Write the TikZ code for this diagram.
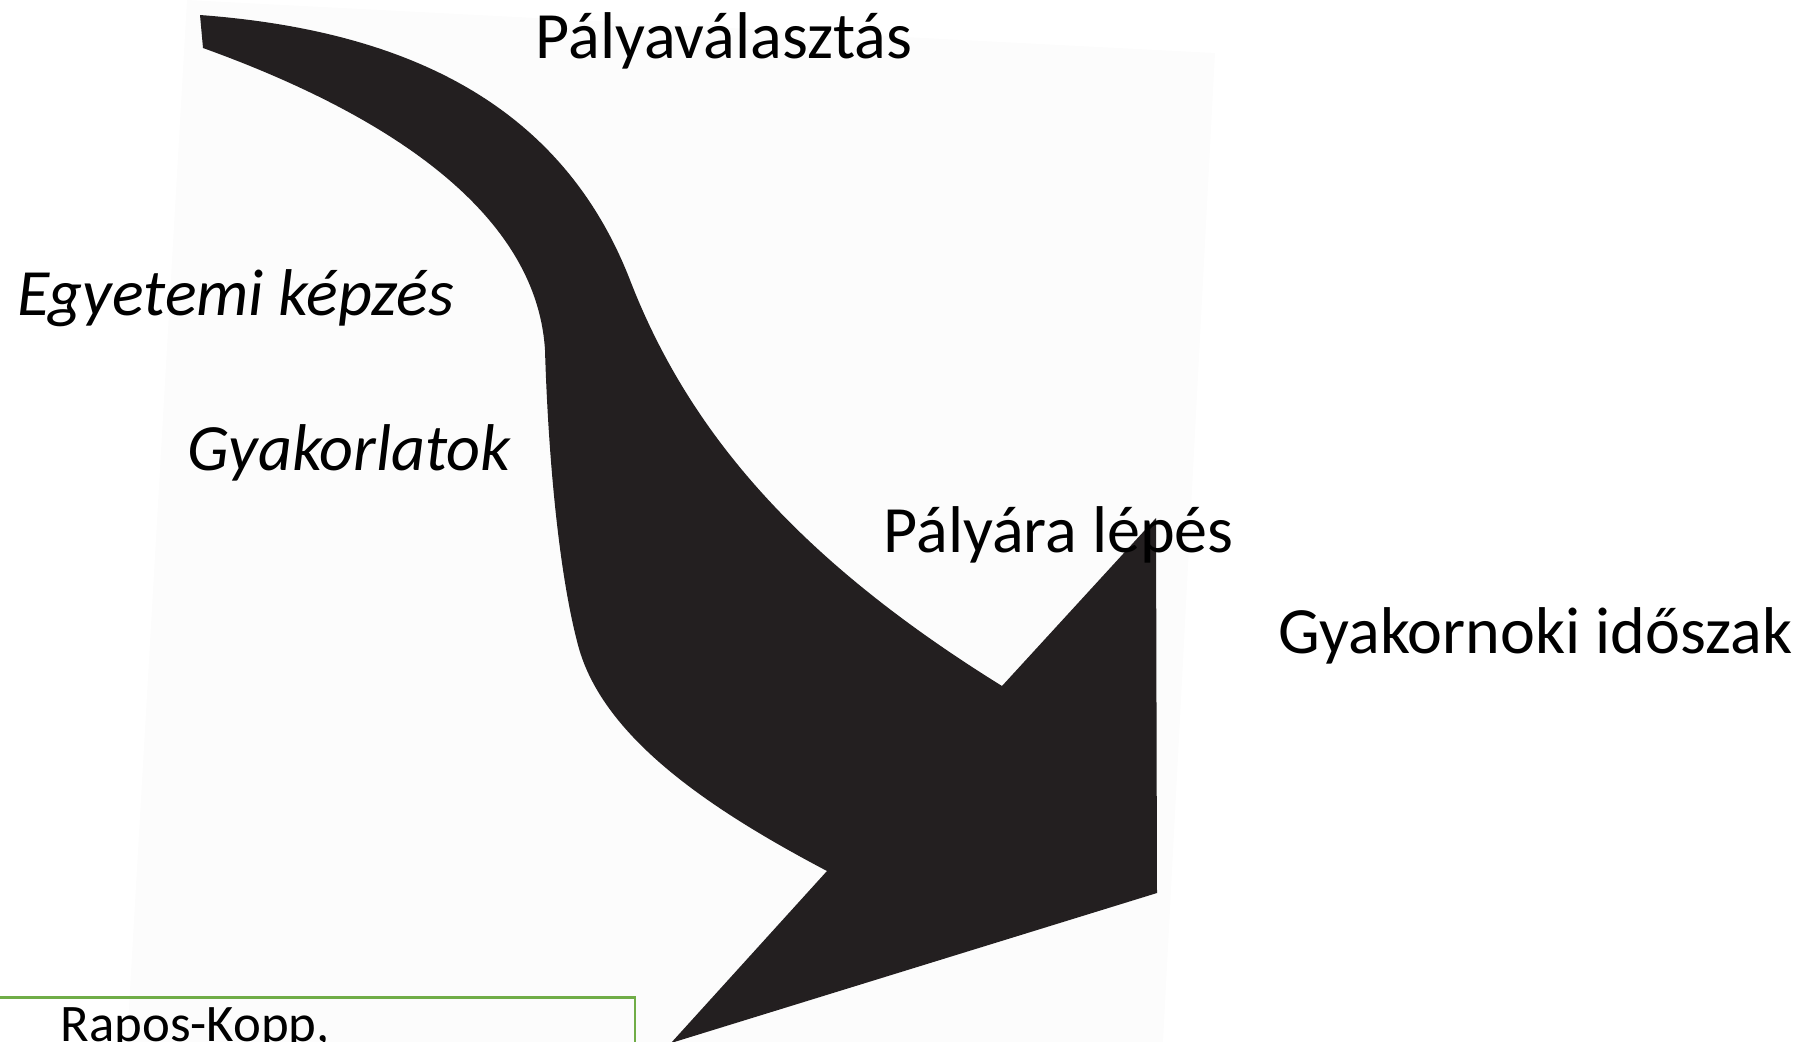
\documentclass[tikz,border=0pt]{standalone}
\usepackage{fontspec}
\setmainfont{Carlito}
\definecolor{arrowblack}{RGB}{35,31,32}
\definecolor{boxgreen}{RGB}{112,173,71}
\definecolor{paper}{RGB}{252,252,252}
\begin{document}
\begin{tikzpicture}[x=0.01cm,y=-0.01cm,
  stage/.style={anchor=base west,inner sep=0pt,font=\fontsize{18.8}{22}\selectfont},
  stagei/.style={stage,font=\fontsize{18.8}{22}\selectfont\itshape},
  ref/.style={anchor=base west,inner sep=0pt,font=\fontsize{15}{18}\selectfont}]
\useasboundingbox (0,0) rectangle (1814,1042);
\clip (0,0) rectangle (1814,1042);
% scanned paper behind the arrow
\fill[paper] (187,0) -- (1215,53) -- (1163,1042) -- (127,1042) -- cycle;
% curved arrow
\fill[arrowblack] (200,15) .. controls (400,30) and (560,100) .. (630,280)
  .. controls (690,435) and (802,562) .. (1002,686)
  -- (1156,518) -- (1157,893) -- (671,1043) -- (827,871)
  .. controls (717,813) and (603,740) .. (578,645)
  .. controls (558,570) and (548,450) .. (545,350)
  .. controls (537,220) and (403,120) .. (203,48) -- cycle;

\node[stage] (valasztas) at (535,58) {Pályaválasztás};
\node[stagei] (kepzes) at (17,315) {Egyetemi képzés};
\node[stagei] (gyakorlat) at (187,470) {Gyakorlatok};
\node[stage] (lepes) at (883,552) {Pályára lépés};
\node[stage] (gyakornok) at (1278,653) {Gyakornoki időszak};

% source box
\draw[boxgreen,line width=0.85pt] (-10,997) rectangle (635,1100);
\node[ref] (forras) at (60,1041) {Rapos-Kopp,};
\end{tikzpicture}
\end{document}
